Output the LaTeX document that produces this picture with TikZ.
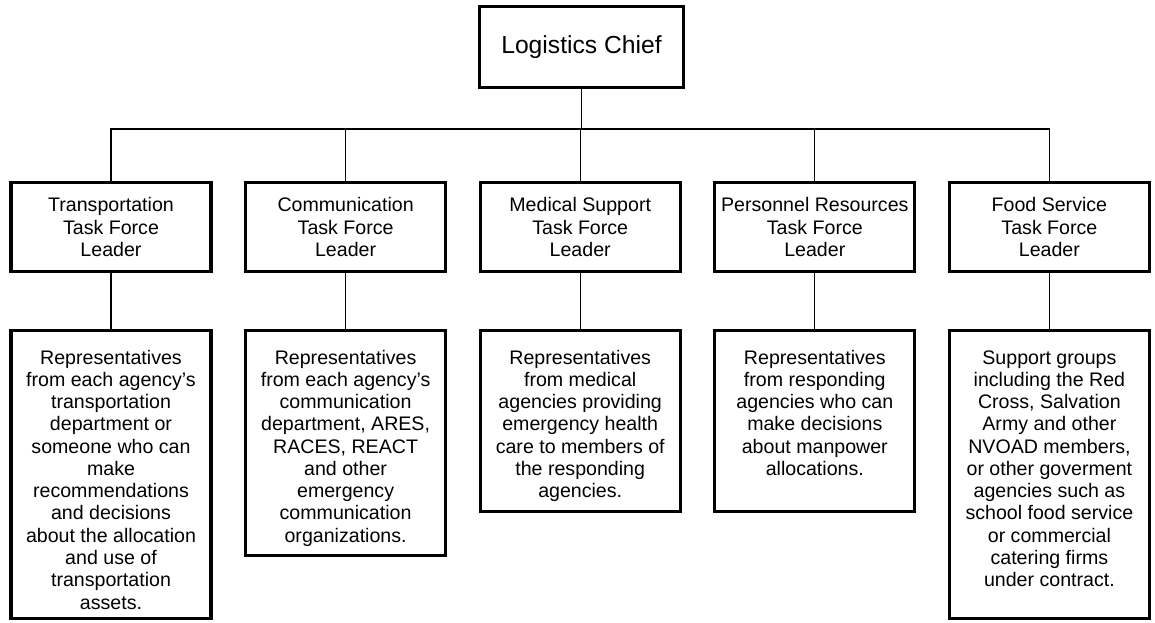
\documentclass[tikz,border=0pt]{standalone}
\usepackage{fontspec}
\setmainfont{Liberation Sans}
\begin{document}
\begin{tikzpicture}[x=0.75pt, y=-0.75pt,
    every node/.style={font=\fontsize{14.7pt}{16.7pt}\selectfont, align=center},
    box/.style={draw, line width=2.4pt, minimum width=150pt, inner xsep=2pt},
    leader/.style={box, minimum height=66.75pt},
    rep/.style={box, anchor=north, inner ysep=3pt},
    link/.style={line width=0.8pt}]

    \useasboundingbox (0,0) rectangle (1155,622);

    % Chief
    \node[box, minimum width=153pt, minimum height=60.75pt, font=\fontsize{18.5pt}{22pt}\selectfont] (chief) at (581.5,47) {Logistics Chief};
    \coordinate (bus) at (581.5,129);

    % Task force leaders
    \node[leader] (l1) at (111,227) {Transportation\\Task Force\\Leader};
    \node[leader] (l2) at (345.6,227) {Communication\\Task Force\\Leader};
    \node[leader] (l3) at (580.2,227) {Medical Support\\Task Force\\Leader};
    \node[leader] (l4) at (814.8,227) {Personnel Resources\\Task Force\\Leader};
    \node[leader] (l5) at (1049.4,227) {Food Service\\Task Force\\Leader};

    % Representatives
    \node[rep, text height=205.8pt, text depth=4.05pt] (r1) at (111,329) {Representatives\\from each agency's\\transportation\\department or\\someone who can\\make\\recommendations\\and decisions\\about the allocation\\and use of\\transportation\\assets.};
    \node[rep, text height=155.7pt, text depth=6.9pt] (r2) at (345.6,329) {Representatives\\from each agency's\\communication\\department, ARES,\\RACES, REACT\\and other\\emergency\\communication\\organizations.};
    \node[rep, text height=122.3pt, text depth=7.3pt] (r3) at (580.2,329) {Representatives\\from medical\\agencies providing\\emergency health\\care to members of\\the responding\\agencies.};
    \node[rep, text height=105.6pt, text depth=24pt] (r4) at (814.8,329) {Representatives\\from responding\\agencies who can\\make decisions\\about manpower\\allocations.};
    \node[rep, text height=189.1pt, text depth=20.75pt] (r5) at (1049.4,329) {Support groups\\including the Red\\Cross, Salvation\\Army and other\\NVOAD members,\\or other goverment\\agencies such as\\school food service\\or commercial\\catering firms\\under contract.};

    % Links
    \foreach \i in {1,...,5} {
        \draw[link] (chief.south) |- (bus -| l\i.north) -- (l\i.north);
        \draw[link] (l\i.south) -- (r\i.north);
    }

\end{tikzpicture}
\end{document}
